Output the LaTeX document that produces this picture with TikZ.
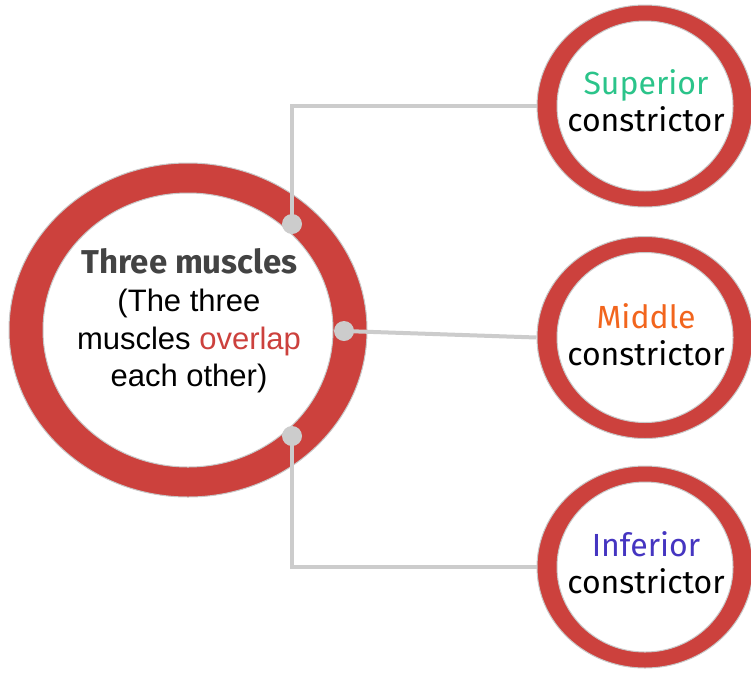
\documentclass[tikz,border=0pt]{standalone}
\usepackage{fontspec}
\setmainfont{Liberation Sans}
\newfontfamily\firafont{Fira Sans}
\usetikzlibrary{shapes.geometric}
\definecolor{ringred}{RGB}{204,65,61}
\definecolor{edgegray}{RGB}{200,200,200}
\definecolor{linegray}{RGB}{204,204,204}
\definecolor{darktxt}{RGB}{67,67,67}
\definecolor{supgreen}{RGB}{43,196,138}
\definecolor{midorange}{RGB}{242,101,29}
\definecolor{infpurple}{RGB}{69,53,193}
\begin{document}
\begin{tikzpicture}[x=1pt,y=-1pt,
  ringout/.style={ellipse, fill=ringred, draw=edgegray, line width=1pt, inner sep=0pt},
  ringin/.style={ellipse, fill=white, draw=edgegray, line width=1pt, inner sep=0pt},
  bigout/.style={ringout, minimum width=358pt, minimum height=334pt},
  bigin/.style={ringin, minimum width=290pt, minimum height=274pt},
  smout/.style={ringout, minimum width=216pt, minimum height=202pt},
  smin/.style={ringin, minimum width=176pt, minimum height=170pt},
  conn/.style={draw=linegray, line width=4pt},
  dot/.style={circle, fill=linegray, minimum size=20pt, inner sep=0pt},
  bigtxt/.style={font=\fontsize{31}{37}\selectfont, anchor=base, inner sep=0pt},
  headtxt/.style={font=\firafont\bfseries\fontsize{33}{39}\selectfont, text=darktxt, anchor=base, inner sep=0pt},
  smalltxt/.style={font=\firafont\fontsize{32}{38}\selectfont, anchor=base, inner sep=0pt}]
\useasboundingbox (0,0) rectangle (751,672);
\fill[white] (0,0) rectangle (751,672);
% rings
\node[bigout] (bigO) at (188,330) {};
\node[bigin]  (bigI) at (188,330) {};
\node[smout] (sup) at (645,106) {};
\node[smin]  (supI) at (645,106) {};
\node[smout] (mid) at (645,337.5) {};
\node[smin]  (midI) at (645,337.5) {};
\node[smout] (inf) at (645,567) {};
\node[smin]  (infI) at (645,567) {};
% dots
\coordinate (c1) at (292,224);
\coordinate (c2) at (344,331);
\coordinate (c3) at (292,436);
% connectors
\draw[conn] (c1) |- (sup.west);
\draw[conn] (c2) -- (mid.west);
\draw[conn] (c3) |- (inf.west);
\node[dot] (d1) at (c1) {};
\node[dot] (d2) at (c2) {};
\node[dot] (d3) at (c3) {};
% big text
\node[headtxt] (t1) at (189.5,273) {Three muscles};
\node[bigtxt] (t2) at (189,311.5) {(The three};
\node[bigtxt] (t3) at (189,349) {muscles \textcolor{ringred}{overlap}};
\node[bigtxt] (t4) at (189,386.5) {each other)};
% small texts
\node[smalltxt, text=supgreen] (s1) at (646,94) {Superior};
\node[smalltxt] (s2) at (646,131) {constrictor};
\node[smalltxt, text=midorange] (m1) at (646,328.5) {Middle};
\node[smalltxt] (m2) at (646,365.5) {constrictor};
\node[smalltxt, text=infpurple] (i1) at (646,556.5) {Inferior};
\node[smalltxt] (i2) at (646,593.5) {constrictor};
\end{tikzpicture}
\end{document}
